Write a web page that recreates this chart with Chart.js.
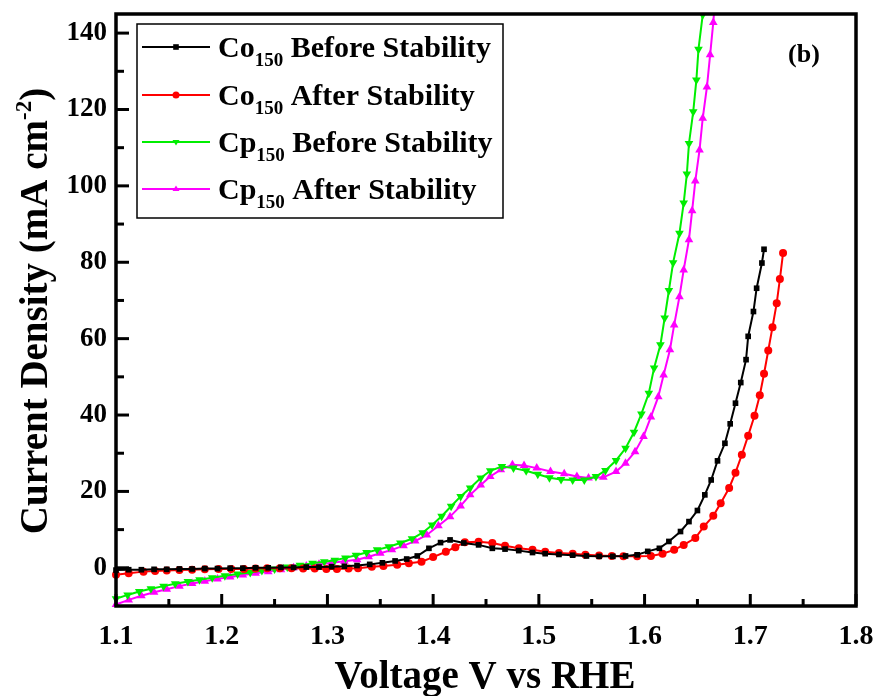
<!DOCTYPE html>
<html>
<head>
<meta charset="utf-8">
<script src="https://cdn.jsdelivr.net/npm/chart.js"></script>
<style>
  html, body { margin: 0; padding: 0; background: #fff; }
  canvas { display: block; }
</style>
</head>
<body>
<canvas id="lsvChart" width="881" height="696"></canvas>
<script>
// LSV curves, voltage (V vs RHE) and current density (mA cm-2)
const coBeforeV = [1.100,1.112,1.124,1.136,1.148,1.160,1.172,1.184,1.196,1.208,1.220,1.232,1.244,1.256,1.268,1.280,1.292,1.304,1.316,1.328,1.340,1.352,1.364,1.375,1.385,1.396,1.407,1.416,1.429,1.443,1.456,1.468,1.481,1.494,1.506,1.519,1.532,1.545,1.557,1.570,1.582,1.593,1.603,1.614,1.623,1.634,1.642,1.650,1.657,1.663,1.669,1.676,1.681,1.686,1.691,1.696,1.698,1.703,1.706,1.711,1.713];
const coBeforeJ = [-0.6,-0.5,-0.5,-0.4,-0.4,-0.3,-0.3,-0.2,-0.2,-0.1,-0.1,0,0,0.1,0.1,0.2,0.2,0.3,0.4,0.6,0.9,1.3,1.8,2.3,3.1,5.1,6.6,7.3,6.5,6.0,5.1,4.9,4.5,4.0,3.7,3.5,3.3,3.1,3.0,3.0,3.1,3.4,4.3,5.1,6.9,9.5,12.1,15.0,19.1,23.0,28.0,32.6,37.7,43.1,48.5,54.5,60.6,67.1,73.2,79.8,83.4];

const coAfterV = [1.100,1.112,1.126,1.137,1.148,1.160,1.172,1.184,1.197,1.209,1.221,1.232,1.243,1.255,1.266,1.277,1.288,1.299,1.309,1.320,1.329,1.342,1.353,1.366,1.377,1.389,1.400,1.412,1.421,1.430,1.443,1.456,1.468,1.481,1.494,1.506,1.519,1.532,1.544,1.557,1.569,1.580,1.593,1.606,1.617,1.628,1.637,1.648,1.656,1.665,1.672,1.680,1.686,1.692,1.698,1.704,1.709,1.713,1.717,1.721,1.725,1.728,1.731];
const coAfterJ = [-1.8,-1.4,-1.0,-0.85,-0.7,-0.6,-0.5,-0.4,-0.3,-0.3,-0.3,-0.2,-0.1,-0.1,-0.1,-0.2,-0.2,-0.3,-0.3,-0.2,-0.1,0.3,0.5,0.8,1.2,1.6,2.8,4.2,5.4,6.7,6.8,6.5,5.8,5.1,4.7,4.2,3.9,3.7,3.4,3.2,3.1,3.0,3.0,3.1,3.7,4.7,6.0,7.8,10.8,13.6,16.9,20.9,24.9,29.6,34.6,39.8,45.2,50.8,56.9,63.0,69.3,75.6,82.4];

const cpBeforeV = [1.100,1.111,1.122,1.133,1.145,1.156,1.168,1.179,1.191,1.203,1.215,1.227,1.238,1.250,1.262,1.274,1.286,1.297,1.307,1.317,1.327,1.337,1.347,1.358,1.369,1.380,1.390,1.399,1.408,1.417,1.426,1.435,1.445,1.454,1.465,1.476,1.488,1.499,1.510,1.521,1.532,1.543,1.554,1.563,1.573,1.582,1.590,1.597,1.604,1.609,1.615,1.619,1.623,1.627,1.633,1.637,1.640,1.642,1.646,1.649,1.651,1.655,1.657];
const cpBeforeJ = [-8.1,-7.1,-6.2,-5.5,-4.8,-4.2,-3.6,-3.1,-2.6,-2.1,-1.6,-1.2,-0.7,-0.3,0.2,0.7,1.2,1.6,2.0,2.6,3.3,4.0,4.7,5.5,6.5,7.6,9.2,11.2,13.5,16.1,18.7,20.9,23.5,25.4,26.5,26.1,25.4,24.5,23.6,23.1,23.0,23.0,23.9,25.5,28.1,31.3,35.5,40.3,45.7,52.3,58.4,65.4,72.6,79.9,87.6,95.5,103.1,111.1,119.4,127.7,135.8,144.8,150];

const cpAfterV = [1.100,1.112,1.124,1.136,1.148,1.160,1.172,1.184,1.196,1.208,1.220,1.232,1.244,1.256,1.268,1.280,1.292,1.304,1.316,1.328,1.339,1.350,1.361,1.372,1.383,1.394,1.405,1.416,1.426,1.435,1.445,1.454,1.464,1.475,1.486,1.498,1.511,1.524,1.536,1.547,1.561,1.573,1.582,1.591,1.599,1.606,1.613,1.618,1.624,1.628,1.633,1.637,1.642,1.645,1.648,1.652,1.655,1.659,1.662,1.665,1.667];
const cpAfterJ = [-9.6,-8.4,-7.3,-6.4,-5.6,-4.8,-4.1,-3.5,-2.9,-2.4,-1.9,-1.4,-1.0,-0.5,0,0.5,0.9,1.3,1.7,2.1,2.9,3.8,4.7,5.8,7.0,8.6,11.0,13.4,16.2,19.1,21.7,23.9,25.7,27.0,26.8,26.1,25.2,24.6,23.9,23.5,23.7,25.2,27.4,30.4,34.4,39.5,44.8,50.5,57.1,63.6,71.0,78.0,85.9,93.5,101.3,109.4,117.7,125.9,134.3,142.8,150];

const yTickValues = [0, 20, 40, 60, 80, 100, 120, 140];
const seriesNames = [
  ['Co', '150', ' Before Stability'],
  ['Co', '150', ' After Stability'],
  ['Cp', '150', ' Before Stability'],
  ['Cp', '150', ' After Stability']
];

const SERIF = '"Liberation Serif", "Times New Roman", serif';

function pts(xs, ys) {
  return xs.map((x, i) => ({ x: x, y: ys[i] }));
}

// draw text made of pieces (subscripts / superscripts), centred or left aligned
function drawRich(ctx, segs, x, y, align) {
  let total = 0;
  segs.forEach(s => { ctx.font = s.font; total += ctx.measureText(s.text).width; });
  let cx = align === 'center' ? x - total / 2 : x;
  ctx.textAlign = 'left';
  ctx.textBaseline = 'alphabetic';
  segs.forEach(s => {
    ctx.font = s.font;
    ctx.fillText(s.text, cx, y + (s.dy || 0));
    cx += ctx.measureText(s.text).width;
  });
}

function drawMarker(ctx, style, x, y, r, color) {
  ctx.fillStyle = color;
  ctx.beginPath();
  if (style === 'rect') {
    ctx.rect(x - r * 0.8, y - r * 0.8, r * 1.6, r * 1.6);
  } else if (style === 'circle') {
    ctx.arc(x, y, r, 0, Math.PI * 2);
  } else if (style === 'down') {
    ctx.moveTo(x - r, y - r * 0.6);
    ctx.lineTo(x + r, y - r * 0.6);
    ctx.lineTo(x, y + r);
  } else {
    ctx.moveTo(x - r, y + r * 0.6);
    ctx.lineTo(x + r, y + r * 0.6);
    ctx.lineTo(x, y - r);
  }
  ctx.closePath();
  ctx.fill();
}

const decorPlugin = {
  id: 'decor',
  afterDraw(chart) {
    const ctx = chart.ctx;
    const a = chart.chartArea;
    const xs = chart.scales.x, ys = chart.scales.y;
    ctx.save();
    ctx.strokeStyle = '#000';
    ctx.fillStyle = '#000';

    // inward ticks on bottom and left
    ctx.lineWidth = 3;
    for (let i = 0; i <= 14; i++) {
      const v = 1.1 + i * 0.05;
      const px = xs.getPixelForValue(v);
      const len = i % 2 === 0 ? 12 : 7;
      ctx.beginPath();
      ctx.moveTo(px, a.bottom);
      ctx.lineTo(px, a.bottom - len);
      ctx.stroke();
    }
    for (let v = 0; v <= 140; v += 10) {
      const py = ys.getPixelForValue(v);
      const len = v % 20 === 0 ? 13 : 8;
      ctx.beginPath();
      ctx.moveTo(a.left, py);
      ctx.lineTo(a.left + len, py);
      ctx.stroke();
    }

    // frame
    ctx.lineWidth = 3.5;
    ctx.strokeRect(a.left, a.top, a.right - a.left, a.bottom - a.top);

    // legend
    const lx = 137, ly = 24, lw = 366, lh = 194;
    ctx.lineWidth = 1.5;
    ctx.strokeRect(lx, ly, lw, lh);
    const styles = ['rect', 'circle', 'down', 'up'];
    const baselines = [57, 105, 152, 199];
    chart.data.datasets.forEach((ds, i) => {
      const yc = baselines[i] - 10;
      ctx.strokeStyle = ds.borderColor;
      ctx.lineWidth = 2;
      ctx.beginPath();
      ctx.moveTo(142, yc);
      ctx.lineTo(210, yc);
      ctx.stroke();
      drawMarker(ctx, styles[i], 176, yc, 3.5, ds.borderColor);
      ctx.fillStyle = '#000';
      const n = seriesNames[i];
      drawRich(ctx, [
        { text: n[0], font: 'bold 30px ' + SERIF },
        { text: n[1], font: 'bold 19px ' + SERIF, dy: 9 },
        { text: n[2], font: 'bold 30px ' + SERIF }
      ], 218, baselines[i], 'left');
    });

    // panel label
    ctx.fillStyle = '#000';
    ctx.font = 'bold 26px ' + SERIF;
    ctx.textAlign = 'center';
    ctx.textBaseline = 'alphabetic';
    ctx.fillText('(b)', 804, 62);

    // axis titles
    drawRich(ctx, [{ text: 'Voltage V vs RHE', font: 'bold 39px ' + SERIF }], 485, 688, 'center');

    ctx.save();
    ctx.translate(47, 311);
    ctx.rotate(-Math.PI / 2);
    drawRich(ctx, [
      { text: 'Current Density (mA cm', font: 'bold 39px ' + SERIF },
      { text: '-2', font: 'bold 23px ' + SERIF, dy: -16 },
      { text: ')', font: 'bold 39px ' + SERIF }
    ], 0, 0, 'center');
    ctx.restore();

    ctx.restore();
  }
};

const ctxLsv = document.getElementById('lsvChart').getContext('2d');
new Chart(ctxLsv, {
  type: 'scatter',
  data: {
    datasets: [{
      label: 'Co150 Before Stability',
      data: pts(coBeforeV, coBeforeJ),
      borderColor: '#000000',
      backgroundColor: '#000000',
      pointStyle: 'rect',
      pointRadius: 4
    }, {
      label: 'Co150 After Stability',
      data: pts(coAfterV, coAfterJ),
      borderColor: '#ff0000',
      backgroundColor: '#ff0000',
      pointStyle: 'circle',
      pointRadius: 4
    }, {
      label: 'Cp150 Before Stability',
      data: pts(cpBeforeV, cpBeforeJ),
      borderColor: '#00ee00',
      backgroundColor: '#00ee00',
      pointStyle: 'triangle',
      pointRotation: 180,
      pointRadius: 5
    }, {
      label: 'Cp150 After Stability',
      data: pts(cpAfterV, cpAfterJ),
      borderColor: '#ff00ff',
      backgroundColor: '#ff00ff',
      pointStyle: 'triangle',
      pointRadius: 5
    }].map(ds => Object.assign(ds, {
      showLine: true,
      borderWidth: 2,
      pointBorderWidth: 0,
      tension: 0,
      clip: { left: 5, right: 5, top: 0, bottom: 5 }
    }))
  },
  options: {
    responsive: false,
    animation: false,
    devicePixelRatio: 1,
    layout: { padding: { top: 14, right: 25, left: 0, bottom: 0 } },
    plugins: {
      legend: { display: false },
      tooltip: { enabled: false }
    },
    scales: {
      x: {
        type: 'linear',
        min: 1.1,
        max: 1.8,
        grid: { display: false, drawTicks: false },
        border: { display: false },
        ticks: {
          stepSize: 0.1,
          padding: 14,
          color: '#000',
          maxRotation: 0,
          font: { family: SERIF, size: 28, weight: 'bold' },
          callback: v => v.toFixed(1)
        },
        afterFit: s => { s.height = 90; s.paddingLeft = 0; s.paddingRight = 0; }
      },
      y: {
        min: -10,
        max: 145,
        grid: { display: false, drawTicks: false },
        border: { display: false },
        afterBuildTicks: s => { s.ticks = yTickValues.map(v => ({ value: v })); },
        ticks: {
          padding: 9,
          color: '#000',
          font: { family: SERIF, size: 27, weight: 'bold' }
        },
        afterFit: s => { s.width = 116; s.paddingTop = 0; s.paddingBottom = 0; }
      }
    }
  },
  plugins: [decorPlugin]
});
</script>
</body>
</html>
